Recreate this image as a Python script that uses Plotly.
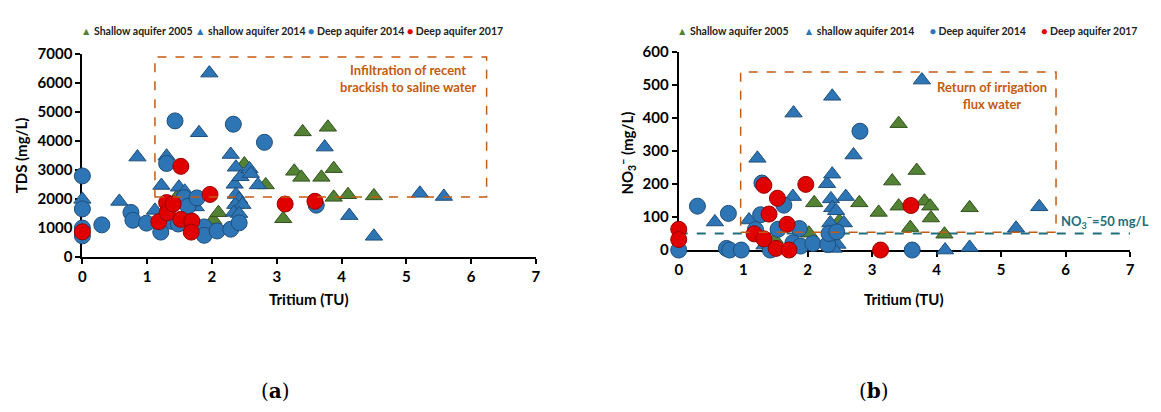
import plotly.graph_objects as go

# ---------------- data: panel (a) Tritium vs TDS ----------------
sh05_a_tu = [1.35, 1.45, 2.02, 2.10, 2.50, 2.83, 3.10, 3.27, 3.38, 3.40, 3.69, 3.79, 3.88, 3.88, 4.10, 4.50]
sh05_a_tds = [1750, 2040, 1270, 1520, 3200, 2480, 1310, 2950, 2740, 4310, 2740, 4470, 3040, 2050, 2140, 2100]

sh14_a_tu = [0.00, 0.57, 0.85, 1.12, 1.22, 1.30, 1.49, 1.58, 1.80, 1.96, 1.75, 2.29, 2.37, 2.35,
             2.44, 2.58, 2.60, 2.71, 2.37, 2.42, 2.36, 2.47, 2.34, 2.42, 3.74, 4.12, 4.50, 5.21, 5.58]
sh14_a_tds = [1980, 1910, 3440, 1600, 2460, 3470, 2400, 2260, 4280, 6340, 1720, 3530, 3090, 2500,
              2760, 3030, 2870, 2480, 2150, 1980, 1800, 1800, 1530, 1490, 3785, 1420, 705, 2190, 2080]

dp14_a_tu = [0.00, 0.00, 0.00, 0.00, 0.30, 0.75, 0.78, 0.99, 1.21, 1.30, 1.43, 1.38, 1.48, 1.57,
             1.63, 1.77, 1.88, 1.88, 2.08, 2.29, 2.42, 2.33, 2.81, 3.61]
dp14_a_tds = [2790, 1650, 990, 720, 1100, 1530, 1260, 1160, 850, 3220, 4690, 1220, 1130, 2040,
              1740, 2030, 1030, 740, 890, 950, 1170, 4575, 3950, 1780]

dp17_a_tu = [0.00, 1.18, 1.30, 1.31, 1.40, 1.52, 1.52, 1.69, 1.68, 1.97, 3.13, 3.59]
dp17_a_tds = [860, 1210, 1870, 1520, 1820, 3120, 1290, 1230, 850, 2150, 1820, 1915]

# ---------------- data: panel (b) Tritium vs NO3- ----------------
sh05_b_tu = [1.49, 2.02, 2.10, 2.49, 2.80, 3.10, 3.31, 3.41, 3.41, 3.59, 3.69, 3.81, 3.90, 3.91, 4.12, 4.51]
sh05_b_no3 = [32, 51, 143, 88, 143, 114, 209, 383, 133, 68, 241, 148, 133, 97, 48, 128]

sh14_b_tu = [0.56, 1.09, 1.22, 1.33, 1.78, 1.77, 2.38, 2.30, 2.38, 2.36, 2.38, 2.44, 2.59, 2.71,
             2.56, 2.35, 2.46, 2.40, 3.77, 4.51, 4.13, 5.23, 5.59]
sh14_b_no3 = [85, 91, 278, 15, 415, 162, 466, 201, 230, 155, 128, 119, 162, 288,
              82, 82, 17, 5, 515, 8, 0, 66, 131]

dp14_b_tu = [0.00, 0.29, 0.77, 0.74, 0.79, 0.97, 1.29, 1.27, 1.19, 1.42, 1.54, 1.63, 1.87, 1.77,
             1.89, 2.08, 2.31, 2.33, 2.45, 2.81, 3.62]
dp14_b_no3 = [0, 133, 111, 5, 0, 0, 203, 107, 62, 0, 63, 136, 65, 22,
              12, 20, 17, 50, 55, 360, 0]

dp17_b_tu = [0.00, 0.00, 1.17, 1.32, 1.32, 1.40, 1.53, 1.51, 1.68, 1.71, 1.97, 3.13, 3.60]
dp17_b_no3 = [63, 32, 49, 196, 34, 109, 157, 5, 78, 0, 199, 0, 135]

x_ticks = [0, 1, 2, 3, 4, 5, 6, 7]
tds_ticks = [0, 1000, 2000, 3000, 4000, 5000, 6000, 7000]
no3_ticks = [0, 100, 200, 300, 400, 500, 600]
no3_limit = 50

# ---------------- styles ----------------
GREEN, GREEN_EDGE = "#548235", "#33511f"
BLUE, BLUE_EDGE = "#2E75B6", "#1F4E79"
RED, RED_EDGE = "#E00000", "#9a0000"
BOX = "#C55A11"
TEAL = "#1F6E7A"
W, H = 1161, 412

series = [
    ("tri", GREEN, GREEN_EDGE),
    ("tri", BLUE, BLUE_EDGE),
    ("dot", BLUE, BLUE_EDGE),
    ("dot", RED, RED_EDGE),
]

fig = go.Figure()

def add_panel(data, xa, ya):
    for (kind, fill, edge), (xs, ys) in zip(series, data):
        fig.add_trace(go.Scatter(
            x=xs, y=ys, mode="markers", xaxis=xa, yaxis=ya, showlegend=False,
            cliponaxis=False, hoverinfo="x+y",
            marker=dict(symbol="triangle-up" if kind == "tri" else "circle",
                        size=15 if kind == "tri" else 16, color=fill,
                        line=dict(color=edge, width=1)),
        ))

add_panel([(sh05_a_tu, sh05_a_tds), (sh14_a_tu, sh14_a_tds),
           (dp14_a_tu, dp14_a_tds), (dp17_a_tu, dp17_a_tds)], "x", "y")
add_panel([(sh05_b_tu, sh05_b_no3), (sh14_b_tu, sh14_b_no3),
           (dp14_b_tu, dp14_b_no3), (dp17_b_tu, dp17_b_no3)], "x2", "y2")

def px_x(p):
    return p / W

def px_y(p):
    return 1 - p / H

tick_font = dict(family="Lato", size=15, color="black", weight="bold")
axis_common = dict(showline=True, linecolor="black", linewidth=2, ticks="outside",
                   ticklen=5, tickwidth=2, tickcolor="black", showgrid=False,
                   zeroline=False, tickfont=tick_font, layer="below traces",
                   fixedrange=True)

fig.update_layout(
    width=W, height=H, margin=dict(l=0, r=0, t=0, b=0),
    paper_bgcolor="white", plot_bgcolor="white",
    xaxis=dict(domain=[px_x(79), px_x(536)], range=[0, 7], tickvals=x_ticks,
               anchor="y", **axis_common),
    yaxis=dict(domain=[px_y(258), px_y(46)], range=[0, 7000], tickvals=tds_ticks,
               anchor="x", **axis_common),
    xaxis2=dict(domain=[px_x(680), px_x(1135)], range=[0, 7], tickvals=x_ticks,
                anchor="y2", **axis_common),
    yaxis2=dict(domain=[px_y(251), px_y(44)], range=[0, 600], tickvals=no3_ticks,
                anchor="x2", **axis_common),
)

# dashed interpretation boxes and the nitrate limit line
fig.add_shape(type="rect", xref="x", yref="y", x0=1.12, x1=6.24, y0=2060, y1=6900,
              line=dict(color=BOX, width=1.5, dash="dash"))
fig.add_shape(type="rect", xref="x2", yref="y2", x0=0.96, x1=5.85, y0=54, y1=540,
              line=dict(color=BOX, width=1.5, dash="dash"))
fig.add_shape(type="line", xref="x2", yref="y2", x0=0, x1=7, y0=no3_limit, y1=no3_limit,
              line=dict(color=TEAL, width=2, dash="dash"), layer="below")

ann_font = dict(family="Lato", size=13, color=BOX)
fig.add_annotation(xref="x", yref="y", x=5.02, y=6150, showarrow=False,
                   xanchor="center", yanchor="middle",
                   text="<b>Infiltration of recent<br>brackish to saline water</b>",
                   font=ann_font, align="center")
fig.add_annotation(xref="x2", yref="y2", x=4.85, y=467, showarrow=False,
                   xanchor="center", yanchor="middle",
                   text="<b>Return of irrigation<br>flux water</b>",
                   font=ann_font, align="center")
fig.add_annotation(xref="x2", yref="y2", x=5.9, y=no3_limit, yanchor="bottom",
                   xanchor="left", showarrow=False, yshift=1,
                   text="<b>NO<sub>3</sub><sup>−</sup>=50 mg/L</b>",
                   font=dict(family="Lato", size=13, color=TEAL))

def paper_text(x, y, text, font, **kw):
    opts = dict(xanchor="center", yanchor="middle")
    opts.update(kw)
    fig.add_annotation(xref="paper", yref="paper", x=px_x(x), y=px_y(y), text=text,
                       showarrow=False, font=font, **opts)

# axis titles
title_font = dict(family="Lato", size=15, color="black")
paper_text(307, 302, "<b>Tritium (TU)</b>", title_font)
paper_text(907, 302, "<b>Tritium (TU)</b>", title_font)
paper_text(17, 152, "<b>TDS (mg/L)</b>", title_font, textangle=-90)
paper_text(628, 150, "<b>NO<sub>3</sub><sup>−</sup> (mg/L)</b>", title_font, textangle=-90)

# legends
def legend_text(gap):
    sp = "&nbsp;" * gap
    return ("<b><span style='color:%s'>▲</span> Shallow aquifer 2005%s"
            "<span style='color:%s'>▲</span> shallow aquifer 2014%s"
            "<span style='color:%s'>●</span> Deep aquifer 2014%s"
            "<span style='color:%s'>●</span> Deep aquifer 2017</b>") % (
                GREEN, sp, BLUE, sp, BLUE, sp, RED)

leg_font = dict(family="Lato", size=10.5, color="#222222")
paper_text(76, 22, legend_text(1), leg_font, xanchor="left")
paper_text(676, 22, legend_text(6), leg_font, xanchor="left")

# panel labels
lab_font = dict(family="DejaVu Serif", size=20, color="black")
paper_text(274, 398, "(<b>a</b>)", lab_font)
paper_text(877, 398, "(<b>b</b>)", lab_font)

fig.write_html("out.html")
